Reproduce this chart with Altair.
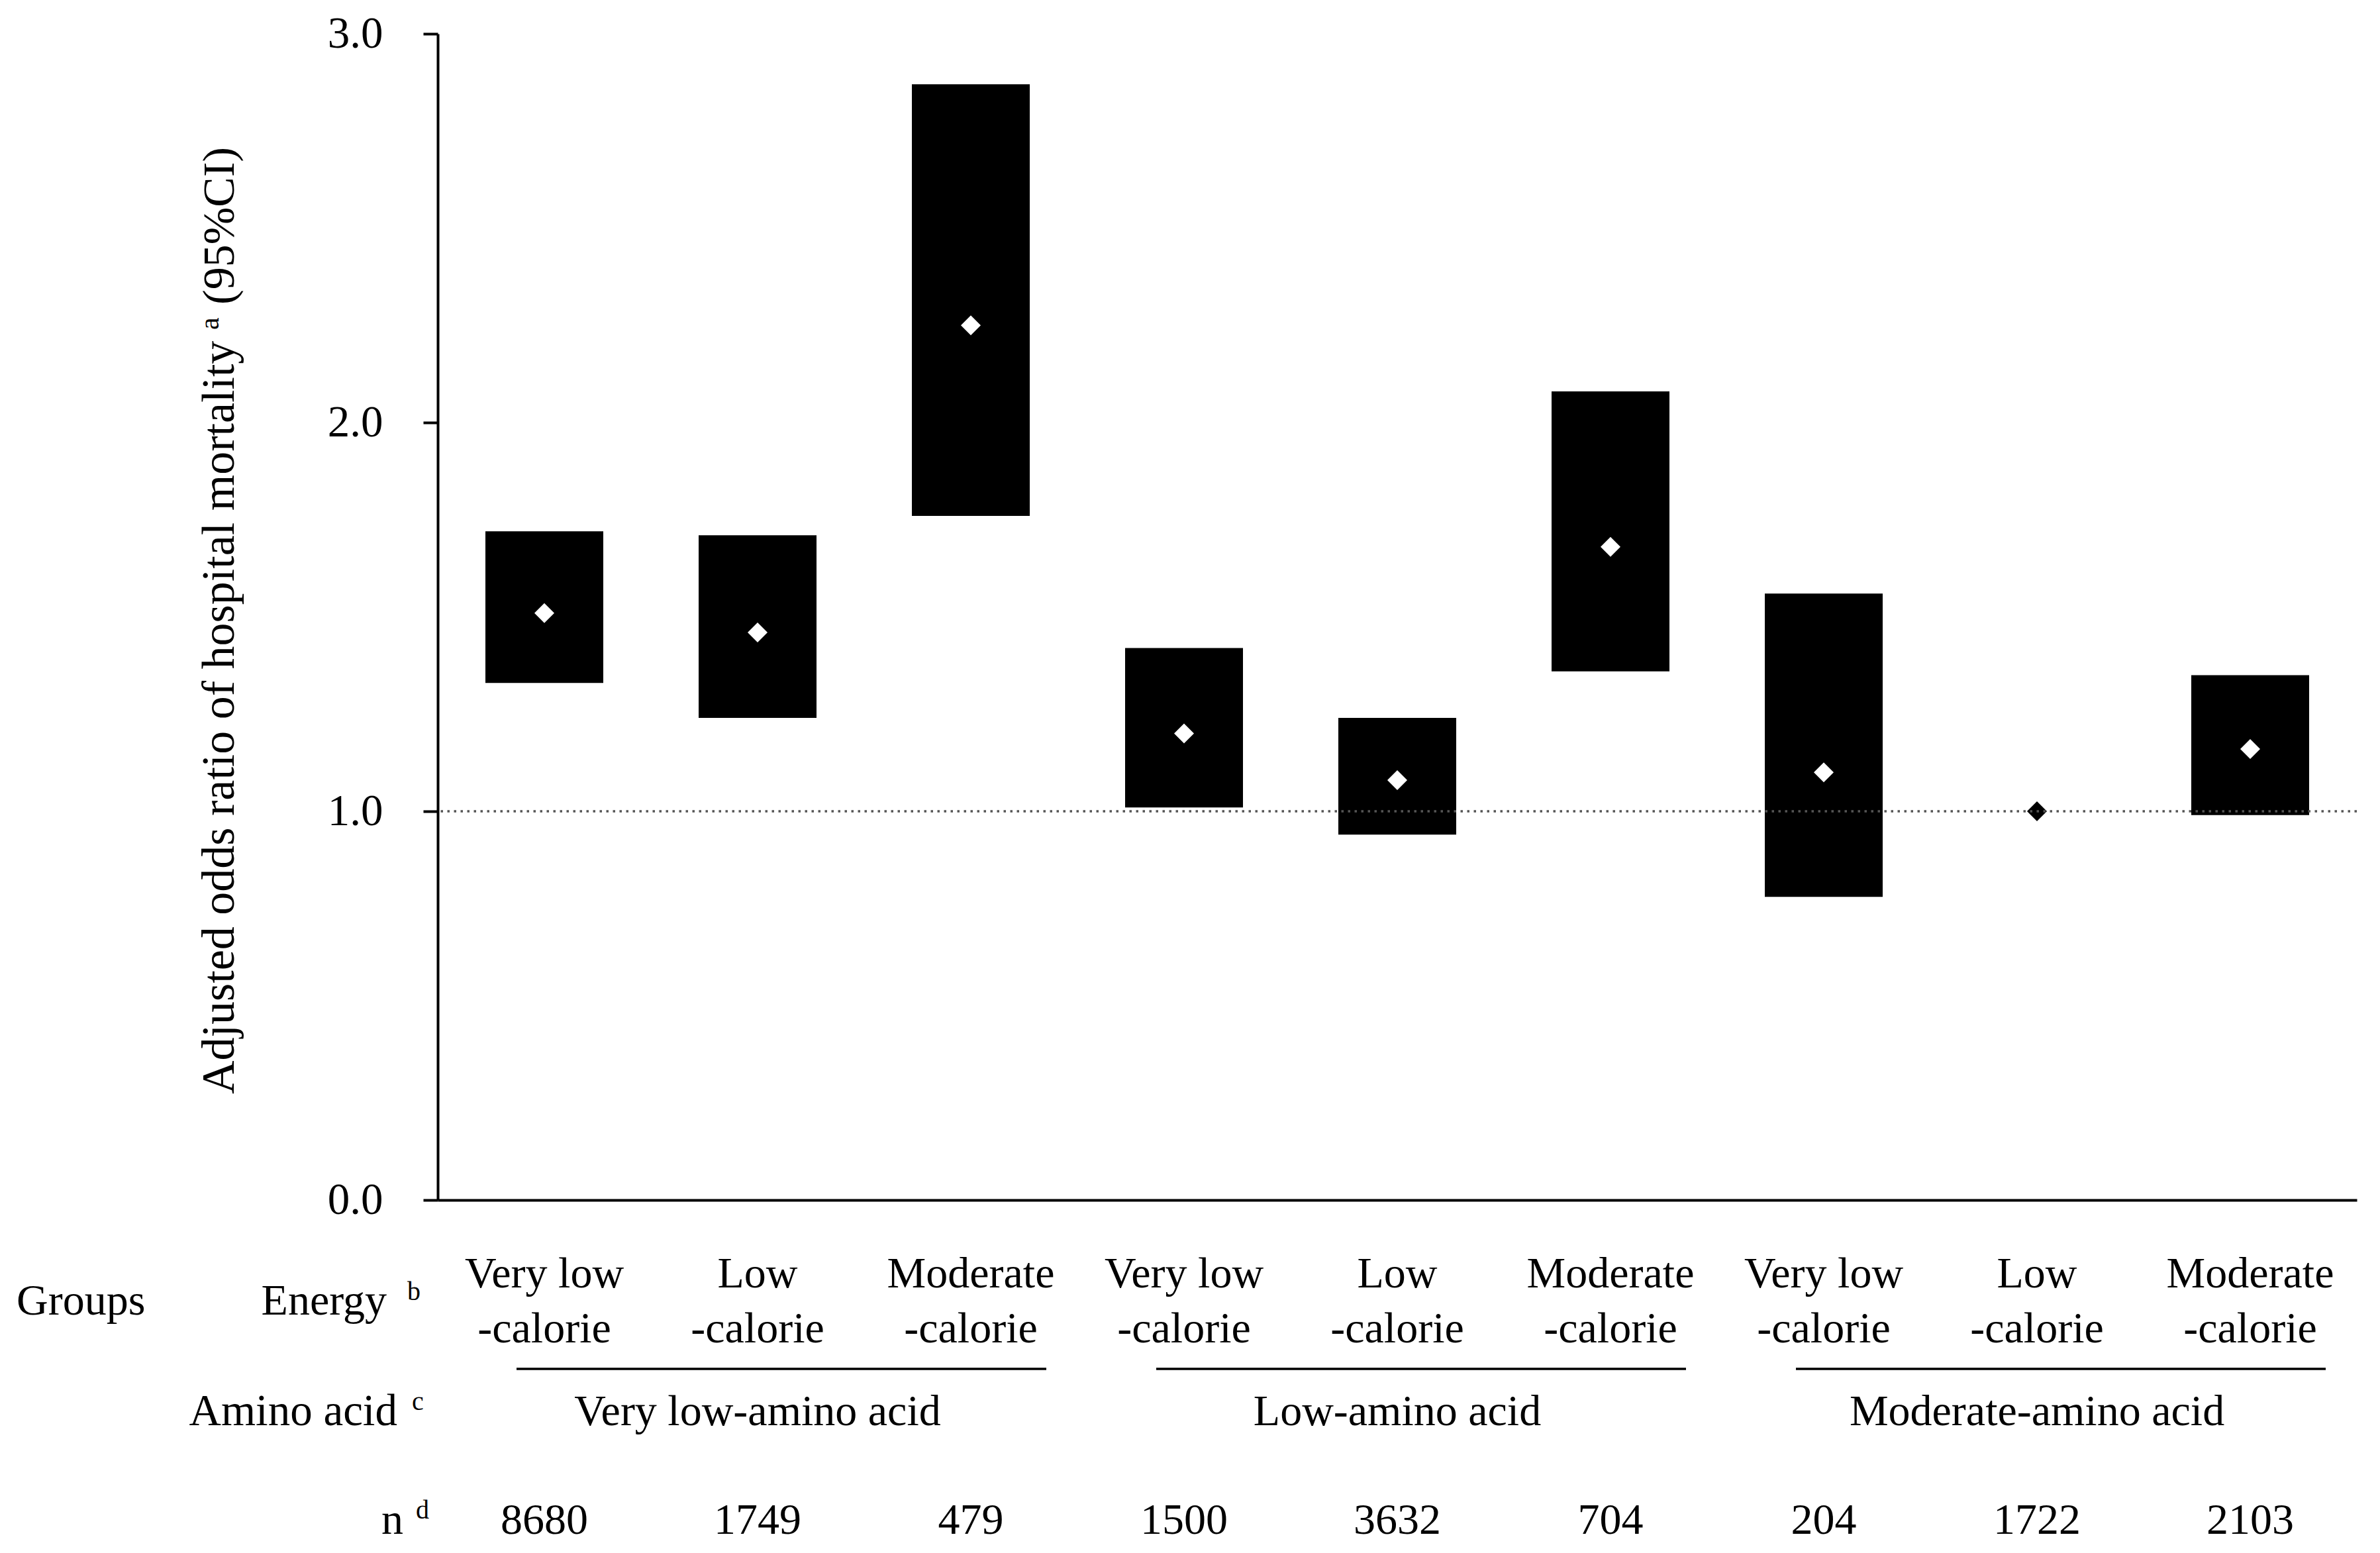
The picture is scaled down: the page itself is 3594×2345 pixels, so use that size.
import altair as alt
import pandas as pd

# ---------------- data ----------------
cat_keys = ["VLAA-VLC", "VLAA-LC", "VLAA-MC",
            "LAA-VLC", "LAA-LC", "LAA-MC",
            "MAA-VLC", "MAA-LC", "MAA-MC"]
energy_line1 = ["Very low", "Low", "Moderate",
                "Very low", "Low", "Moderate",
                "Very low", "Low", "Moderate"]
energy_line2 = ["-calorie"] * 9
odds_ratio = [1.51, 1.46, 2.25, 1.20, 1.08, 1.68, 1.10, 1.00, 1.16]
ci_low = [1.33, 1.24, 1.76, 1.01, 0.94, 1.36, 0.78, 1.00, 0.99]
ci_high = [1.72, 1.71, 2.87, 1.42, 1.24, 2.08, 1.56, 1.00, 1.35]
n_values = [8680, 1749, 479, 1500, 3632, 704, 204, 1722, 2103]

amino_groups = ["Very low-amino acid", "Low-amino acid", "Moderate-amino acid"]
group_first = ["VLAA-VLC", "LAA-VLC", "MAA-VLC"]
group_mid = ["VLAA-LC", "LAA-LC", "MAA-LC"]
group_last = ["VLAA-MC", "LAA-MC", "MAA-MC"]

y_ticks = [0, 1, 2, 3]
reference_or = [1.0]

title_main = "Adjusted odds ratio of hospital mortality"
title_sup = "a"
title_tail = "(95%CI)"
row_labels = ["Groups", "Energy", "Amino acid", "n"]
row_sups = ["b", "c", "d"]

df = pd.DataFrame({
    "key": cat_keys, "e1": energy_line1, "e2": energy_line2,
    "or": odds_ratio, "lo": ci_low, "hi": ci_high,
    "n": [str(v) for v in n_values],
})
gdf = pd.DataFrame({"group": amino_groups, "first": group_first,
                    "key": group_mid, "last": group_last})

FONT = "Liberation Serif"
W, H = 2898, 1761
FS = 66

xscale = alt.Scale(domain=cat_keys, paddingInner=0, paddingOuter=0)
x_enc = alt.X("key:N", sort=cat_keys, scale=xscale,
              axis=alt.Axis(labels=False, ticks=False, title=None, grid=False,
                            domainColor="black", domainWidth=4))
yscale = alt.Scale(domain=[0, 3], nice=False, zero=True)
y_axis = alt.Axis(values=y_ticks, format=".1f", title=None, grid=False,
                  domainColor="black", domainWidth=4, tickColor="black",
                  tickWidth=4, tickSize=22, labelPadding=61,
                  labelFont=FONT, labelFontSize=67, labelColor="black")

bars = alt.Chart(df).transform_filter("datum.hi > datum.lo").mark_bar(
    size=178, color="black").encode(
    x=x_enc,
    y=alt.Y("lo:Q", scale=yscale, axis=y_axis),
    y2="hi:Q",
)

points = alt.Chart(df).mark_point(shape="diamond", filled=True, size=900,
                                  opacity=1, strokeWidth=0).encode(
    x=x_enc,
    y=alt.Y("or:Q", scale=yscale),
    color=alt.condition("datum.hi > datum.lo", alt.value("white"), alt.value("black")),
)

ref = alt.Chart(pd.DataFrame({"ref": reference_or})).mark_rule(
    color="#555555", strokeDash=[3.5, 6.5], strokeWidth=3.5).encode(
    y=alt.Y("ref:Q", scale=yscale))

row1 = alt.Chart(df).mark_text(font=FONT, fontSize=FS, baseline="alphabetic",
                               color="black").encode(x=x_enc, y=alt.value(1893), text="e1:N")
row2 = alt.Chart(df).mark_text(font=FONT, fontSize=FS, baseline="alphabetic",
                               color="black").encode(x=x_enc, y=alt.value(1976), text="e2:N")
nrow = alt.Chart(df).mark_text(font=FONT, fontSize=FS, baseline="alphabetic",
                               color="black").encode(x=x_enc, y=alt.value(2265), text="n:N")
grp_text = alt.Chart(gdf).mark_text(font=FONT, fontSize=FS, baseline="alphabetic",
                                    color="black").encode(x=x_enc, y=alt.value(2101), text="group:N")
grp_line = alt.Chart(gdf).mark_rule(color="black", strokeWidth=3.5,
                                    xOffset=-42, x2Offset=114).encode(
    x=alt.X("first:N", sort=cat_keys, scale=xscale),
    x2="last:N", y=alt.value(2016))

one = pd.DataFrame({"v": [0]})


def label(text, x, y, size=FS, align="left", angle=0):
    return alt.Chart(one).mark_text(text=text, font=FONT, fontSize=size, align=align,
                                    baseline="alphabetic", color="black",
                                    angle=angle).encode(x=alt.value(x), y=alt.value(y))


left_labels = [
    label(row_labels[0], -636, 1934),
    label(row_labels[1], -77, 1934, align="right"),
    label(row_sups[0], -46, 1912, size=40),
    label(row_labels[2], -61, 2101, align="right", size=67),
    label(row_sups[1], -39, 2078, size=40),
    label(row_labels[3], -52, 2265, align="right"),
    label(row_sups[2], -33, 2242, size=40),
    label(title_main, -308, 1601, size=70, angle=270),
    label(title_sup, -331, 447, size=42, angle=270),
    label(title_tail, -308, 409, size=68, angle=270),
]

chart = alt.layer(bars, points, ref, row1, row2, grp_line, grp_text, nrow,
                  *left_labels).properties(
    width=W, height=H,
    padding={"left": 653, "top": 43, "right": 27, "bottom": 525},
    autosize=alt.AutoSizeParams(type="none"),
    background="white",
).configure_view(stroke=None)

chart.save("out.html", embed_options={"renderer": "svg", "actions": False})
